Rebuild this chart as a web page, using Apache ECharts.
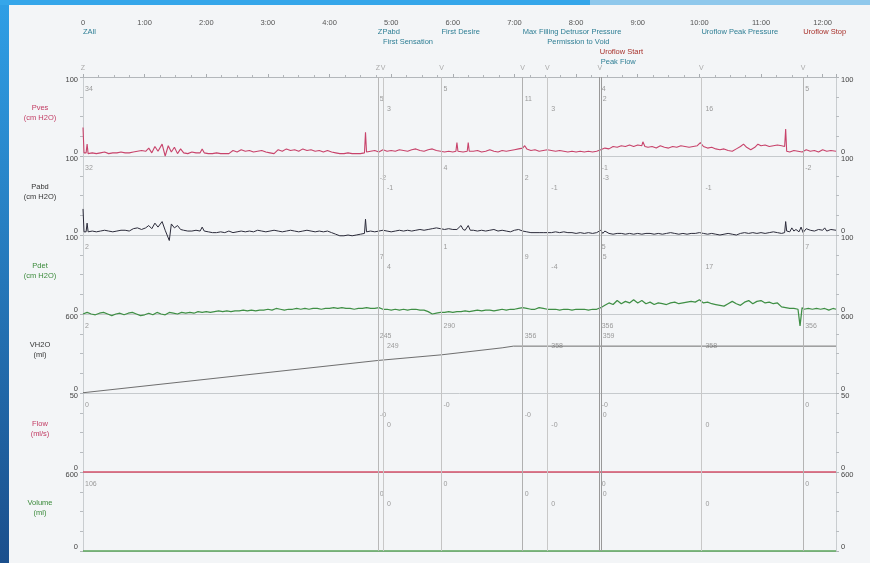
<!DOCTYPE html>
<html><head><meta charset="utf-8">
<script src="https://cdn.jsdelivr.net/npm/echarts@6/dist/echarts.min.js"></script>
<style>html,body{margin:0;padding:0;background:#f3f5f7;}#c{width:870px;height:563px;}</style>
</head><body><div id="c"></div>
<script>
// ---------- data ----------
const timeMax = 733; // seconds shown on the time axis
const eventNames = ['ZAll','ZPabd','First Sensation','First Desire','Max Filling Detrusor Pressure','Permission to Void','Uroflow Start','Peak Flow','Uroflow Peak Pressure','Uroflow Stop'];
const eventTimes = [0, 287, 292, 349, 428, 452, 503, 504, 602, 701];
const eventMarks = ['Z','Z','V','V','V','V','V','','V','V'];
const panelNames = ['Pves\n(cm H2O)','Pabd\n(cm H2O)','Pdet\n(cm H2O)','VH2O\n(ml)','Flow\n(ml/s)','Volume\n(ml)'];
const panelMax = [100, 100, 100, 600, 50, 600];
const pvesEvents = ['34','5','3','5','11','3','4','2','16','5'];
const pabdEvents = ['32','-2','-1','4','2','-1','-1','-3','-1','-2'];
const pdetEvents = ['2','7','4','1','9','-4','5','5','17','7'];
const vh2oEvents = ['2','245','249','290','356','358','356','359','358','356'];
const flowEvents = ['0','-0','0','-0','-0','-0','-0','0','0','0'];
const volumeEvents = ['106','0','0','0','0','0','0','0','0','0'];

const pves = [[0,36],[1,4],[3,4],[4,15],[5,3],[9,4],[13,3],[17,4],[21,5],[25,3],[29,4],[33,4],[37,5],[41,4],[45,4],[49,5],[53,6],[57,7],[61,6],[64,10],[67,4],[70,12],[73,6],[77,15],[78,17],[80,0],[83,13],[86,5],[89,11],[92,3],[95,9],[98,4],[102,3],[106,5],[110,4],[114,4],[116,9],[118,4],[122,3],[126,3],[130,4],[134,3],[138,3],[142,3],[146,7],[150,5],[154,8],[158,6],[162,7],[166,5],[170,6],[174,7],[178,5],[182,4],[186,3],[190,8],[194,6],[198,9],[202,7],[206,8],[210,6],[214,9],[218,7],[222,8],[226,6],[230,7],[234,5],[238,7],[242,5],[246,4],[250,3],[254,3],[258,4],[262,3],[266,3],[270,3],[274,4],[275,30],[276,5],[280,6],[284,7],[288,5],[292,8],[296,6],[300,7],[304,6],[308,8],[312,7],[316,6],[320,8],[324,9],[328,7],[332,6],[336,8],[340,9],[344,7],[348,6],[352,5],[356,6],[360,5],[363,6],[364,17],[365,6],[370,5],[374,6],[375,17],[376,6],[380,6],[384,7],[388,5],[392,6],[396,8],[400,6],[404,5],[408,7],[412,6],[416,7],[420,8],[424,9],[428,10],[430,13],[432,9],[436,7],[440,8],[444,6],[448,7],[452,8],[456,7],[460,6],[464,7],[468,6],[472,5],[476,6],[480,5],[484,6],[488,5],[492,6],[496,5],[500,6],[504,8],[508,10],[512,9],[516,12],[520,11],[524,13],[528,12],[532,14],[536,12],[540,14],[544,13],[545,18],[547,12],[550,11],[554,12],[558,10],[562,13],[566,11],[570,10],[574,12],[578,11],[582,13],[586,12],[590,11],[594,12],[598,13],[601,17],[604,12],[608,10],[612,11],[616,9],[620,8],[624,9],[628,7],[632,6],[636,9],[640,12],[643,15],[646,11],[650,8],[654,11],[657,15],[660,13],[664,14],[668,12],[672,13],[676,14],[680,13],[683,12],[684,34],[685,6],[688,5],[692,7],[696,6],[700,5],[704,8],[708,6],[712,7],[716,5],[720,8],[724,6],[728,7],[733,6]];

const pabd = [[0,33],[1,4],[3,4],[4,15],[5,4],[9,5],[13,4],[17,5],[21,6],[25,5],[29,4],[33,5],[37,6],[41,6],[45,5],[49,8],[53,9],[57,7],[61,9],[64,12],[67,8],[70,15],[73,10],[77,17],[80,6],[84,-7],[86,14],[89,9],[92,12],[95,7],[98,6],[102,5],[106,5],[110,6],[114,5],[116,10],[118,5],[122,4],[126,3],[130,3],[134,4],[138,3],[142,5],[146,3],[150,4],[154,5],[158,4],[162,5],[166,4],[170,6],[174,5],[178,4],[182,5],[186,6],[190,5],[194,4],[198,5],[202,6],[206,5],[210,4],[214,5],[218,6],[222,5],[226,4],[230,5],[234,4],[238,5],[242,3],[246,1],[250,-1],[254,-1],[258,0],[262,-1],[266,0],[270,1],[274,2],[275,20],[276,4],[280,5],[284,4],[288,5],[292,6],[296,5],[300,4],[304,5],[308,6],[312,5],[316,6],[320,5],[324,6],[328,7],[332,6],[336,7],[340,8],[344,9],[348,8],[352,7],[356,8],[360,7],[364,7],[368,12],[370,7],[372,6],[375,12],[377,6],[380,6],[384,5],[388,6],[392,5],[396,6],[400,7],[404,5],[408,6],[412,5],[416,4],[420,6],[424,7],[428,5],[432,4],[436,3],[440,3],[444,3],[448,3],[452,3],[456,3],[460,4],[464,3],[468,4],[472,3],[476,3],[480,2],[484,3],[488,2],[492,3],[496,2],[500,3],[504,6],[506,2],[508,5],[512,2],[516,1],[520,2],[524,2],[528,1],[532,2],[536,1],[540,2],[544,1],[548,2],[552,2],[556,1],[560,2],[564,1],[568,2],[572,3],[576,2],[580,1],[584,2],[588,1],[592,2],[596,2],[600,3],[604,2],[608,1],[612,2],[616,1],[620,0],[624,1],[628,2],[632,1],[636,0],[640,2],[644,3],[648,2],[652,3],[656,2],[660,3],[664,2],[668,3],[672,4],[676,3],[680,2],[683,3],[684,17],[685,5],[688,4],[690,9],[692,5],[694,7],[697,4],[699,10],[701,3],[704,8],[708,6],[712,5],[716,7],[720,6],[722,9],[724,5],[728,7],[733,6]];

const pdet = [[0,0],[4,2],[8,0],[12,-1],[16,1],[20,2],[24,0],[28,-2],[32,0],[36,1],[40,-1],[44,1],[48,2],[52,0],[56,-2],[60,-1],[64,1],[68,-1],[72,2],[76,0],[80,-1],[84,2],[88,1],[92,0],[96,2],[100,1],[104,2],[108,1],[112,3],[116,2],[120,3],[124,2],[128,3],[132,4],[136,3],[140,4],[144,3],[148,4],[152,4],[156,5],[160,4],[164,5],[168,4],[172,5],[176,5],[180,6],[184,5],[188,7],[192,6],[196,5],[200,6],[204,6],[208,7],[212,6],[216,7],[220,6],[224,7],[228,7],[232,6],[236,7],[240,7],[244,8],[248,7],[252,8],[256,7],[260,7],[264,6],[268,7],[272,7],[276,8],[280,7],[284,7],[288,8],[292,6],[296,6],[300,5],[304,6],[308,5],[312,6],[316,5],[320,6],[324,6],[328,5],[332,5],[336,3],[340,0],[344,1],[348,2],[352,2],[356,3],[360,2],[364,3],[368,3],[372,4],[376,3],[380,4],[384,5],[388,4],[392,5],[396,5],[400,4],[404,5],[408,6],[412,5],[416,6],[420,6],[424,7],[428,8],[432,7],[436,6],[440,6],[444,8],[448,7],[452,6],[456,6],[460,6],[464,5],[468,6],[472,6],[476,5],[480,6],[484,6],[488,6],[492,5],[496,6],[500,6],[504,8],[508,11],[512,14],[516,12],[520,17],[524,13],[528,16],[532,14],[536,18],[540,14],[544,17],[548,13],[552,15],[556,12],[560,14],[564,13],[568,12],[572,14],[576,15],[580,13],[584,14],[588,15],[592,16],[596,15],[600,18],[604,14],[608,15],[612,13],[616,12],[620,11],[624,10],[628,13],[632,16],[636,13],[640,11],[644,15],[648,17],[652,13],[656,16],[660,17],[664,14],[668,15],[672,13],[676,14],[680,9],[684,8],[688,7],[692,7],[696,6],[698,-15],[700,8],[702,6],[706,7],[710,6],[714,7],[718,6],[722,7],[726,5],[730,7],[733,6]];

const vh2o = [[0,2],[287,247],[349,290],[408,343],[419,356],[733,356]];
const flow = [[0,0],[733,0]];
const volume = [[0,0],[733,0]];

// ---------- layout / style ----------
const seriesData = [pves, pabd, pdet, vh2o, flow, volume];
const eventVals = [pvesEvents, pabdEvents, pdetEvents, vh2oEvents, flowEvents, volumeEvents];
const lineColors = ['#c8436b','#2b2b3a','#3f8f45','#5f5f5f','#d4506a','#5aa55a'];
const lineWidths = [1.1, 1.0, 1.25, 0.9, 1.5, 1.5];
const nameColors = ['#c23b63','#333','#3a8a3a','#333','#c23b63','#3a8a3a'];
const evLineColors = ['#b8b8b8','#c8c8c8','#c4c4c4','#b0b0b0','#c8c8c8','#999','#999','#c8c8c8','#b4b4b4'];
const topRows = [1,1,2,1,1,2,3,4,1,1];
const annRows = [1,2,3,1,2,3,1,2,3,1];
const labelRed = [false,false,false,false,false,false,true,false,false,true];
const FONT = '"Liberation Sans", Arial, sans-serif';
const G_LEFT = 83, G_RIGHT = 34, TOP0 = 77, H = 79;

const fmtTime = v => v === 0 ? '0' : (Math.floor(v/60) + ':' + String(v%60).padStart(2,'0'));

const chart = echarts.init(document.getElementById('c'));
const grid = [], xAxis = [], yAxis = [], series = [];
panelNames.forEach((n, i) => {
  grid.push({left: G_LEFT, right: G_RIGHT, top: TOP0 + i*H, height: H});
  xAxis.push({type:'value', gridIndex:i, min:0, max:timeMax, position:'bottom',
    axisLine:{show:true, onZero:false, lineStyle:{color:'#c6cacd', width:1}}, axisTick:{show:false},
    axisLabel:{show:false}, splitLine:{show:false}});
  const m = panelMax[i];
  ['left','right'].forEach(pos => {
    yAxis.push({type:'value', gridIndex:i, position:pos, min:0, max:m, interval:m,
      axisLine:{show:true, onZero:false, lineStyle:{color:'#c9cdd0'}},
      axisTick:{show:true, length:3, lineStyle:{color:'#b0b4b8'}},
      minorTick:{show:true, splitNumber:4, length:3, lineStyle:{color:'#b8bcc0'}},
      splitLine:{show:false},
      axisLabel:{fontSize:7.5, fontFamily:FONT, color:'#444', margin:5,
        formatter: v => v === m ? '{t|' + v + '}' : '{b|' + v + '}',
        rich:{t:{padding:[6,0,0,0], fontSize:7.5, color:'#444'}, b:{padding:[0,0,8,0], fontSize:7.5, color:'#444'}}}
    });
  });
  series.push({type:'line', xAxisIndex:i, yAxisIndex:2*i, data:seriesData[i], showSymbol:false,
    clip:false, animation:false, lineStyle:{color:lineColors[i], width:lineWidths[i]}, z:3,
    markLine:{silent:true, symbol:'none', animation:false, label:{show:false},
      data: eventTimes.slice(1).map((t,k) => ({xAxis:t, lineStyle:{color:evLineColors[k], width:1, type:'solid'}}))}
  });
});
// top time axis
xAxis.push({type:'value', gridIndex:0, min:0, max:timeMax, position:'top', interval:60,
  axisLine:{show:true, onZero:false, lineStyle:{color:'#b3b7bb'}},
  axisTick:{show:true, length:3, lineStyle:{color:'#a9adb1'}},
  minorTick:{show:true, splitNumber:4, length:2, lineStyle:{color:'#b3b7bb'}},
  splitLine:{show:false},
  axisLabel:{margin:50, fontSize:7.5, fontFamily:FONT, color:'#555', showMaxLabel:false, formatter:fmtTime}});

chart.setOption({animation:false, textStyle:{fontFamily:FONT}, grid, xAxis, yAxis, series});

// ---------- text annotations placed through the axes ----------
const gfx = [
  {type:'rect', z:-10, shape:{x:0,y:0,width:9,height:563}, style:{fill:new echarts.graphic.LinearGradient(0,0,0,1,[{offset:0,color:'#2f9fe6'},{offset:1,color:'#1b4f8c'}])}},
  {type:'rect', z:-10, shape:{x:0,y:0,width:590,height:5}, style:{fill:'#35a6ea'}},
  {type:'rect', z:-10, shape:{x:590,y:0,width:280,height:5}, style:{fill:'#8fc8ec'}}
];
const xPix = t => chart.convertToPixel({xAxisIndex:0}, t);
eventTimes.forEach((t, k) => {
  const x = xPix(t);
  gfx.push({type:'text', x: x, y: 22 + topRows[k]*10, style:{text:eventNames[k], font:'7.5px ' + FONT,
    fill: labelRed[k] ? '#a8322c' : '#2f7f95', align:'left', verticalAlign:'middle'}});
  if (eventMarks[k]) gfx.push({type:'text', x: x, y: 68, style:{text:eventMarks[k], font:'7px ' + FONT, fill:'#aaa', align:'center', verticalAlign:'middle'}});
  panelNames.forEach((n, i) => {
    const gy = TOP0 + i*H;
    gfx.push({type:'text', x: x + 2 + (annRows[k]===3 ? 2 : 0), y: gy + 2 + annRows[k]*10,
      style:{text:eventVals[i][k], font:'7px ' + FONT, fill:'#9a9a9a', align:'left', verticalAlign:'middle'}});
  });
});
panelNames.forEach((n, i) => {
  gfx.push({type:'text', x:40, y: TOP0 + i*H + H/2 - 4, style:{text:n, font:'7.5px ' + FONT, fill:nameColors[i], align:'center', verticalAlign:'middle', lineHeight:10}});
});
chart.setOption({graphic: gfx});
</script>
</body></html>
